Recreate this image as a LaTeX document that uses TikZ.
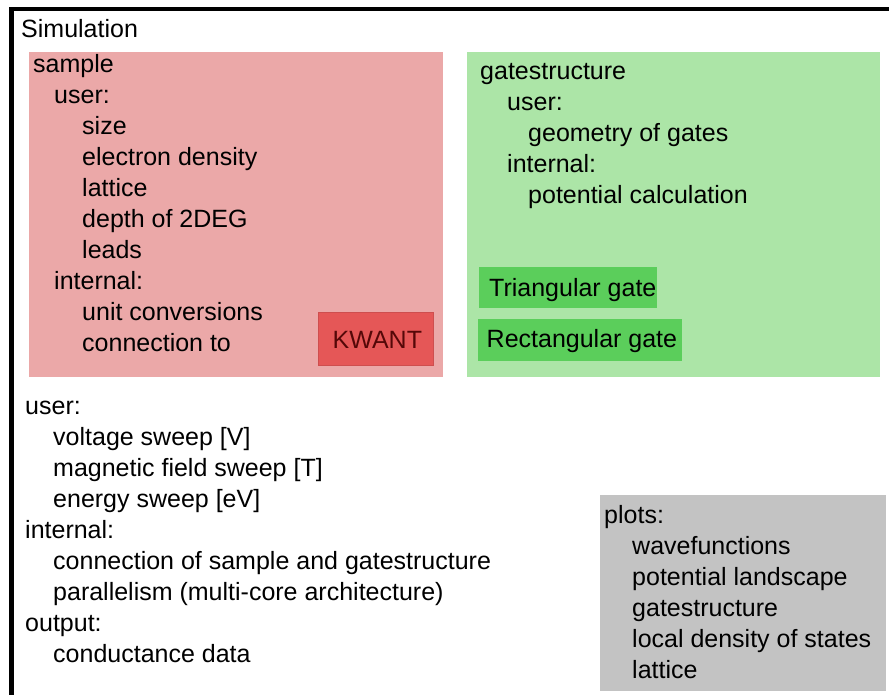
\documentclass[tikz,border=0pt]{standalone}
\usepackage{fontspec}
\setmainfont{Liberation Sans}
\definecolor{samplered}{RGB}{235,168,168}
\definecolor{kwantred}{RGB}{229,87,87}
\definecolor{kwanttext}{RGB}{85,8,8}
\definecolor{gatelight}{RGB}{172,229,167}
\definecolor{gatedark}{RGB}{91,206,91}
\definecolor{plotgray}{RGB}{195,195,195}
\tikzset{
  txt/.style={anchor=base west, inner sep=0pt, font=\fontsize{25}{31}\selectfont},
}
\begin{document}
\begin{tikzpicture}[x=1pt, y=-1pt]
  \useasboundingbox (0,0) rectangle (889,695);

  % frame (left and top edge only)
  \draw[line width=4.5pt] (11.5,695) coordinate (frame-bl) -- (11.5,9) coordinate (frame-tl) -- (889,9) coordinate (frame-tr);
  \node[txt] (simulation) at (21,38) {Simulation};

  % boxes
  \fill[samplered] (29,52) rectangle (443,377);
  \fill[kwantred!90!black] (318,312) rectangle (434,366);
  \fill[kwantred] (319,313) rectangle (433,365);
  \fill[gatelight] (467,52) rectangle (880,377);
  \fill[gatedark] (479,267) rectangle (657,308);
  \fill[gatedark] (478,319) rectangle (682,361);
  \fill[plotgray] (600,495) rectangle (886,691);

  % sample
  \foreach \x/\y/\t [count=\i] in {
      34/70/sample, 55/101/user:, 83/132/size, 83/163/electron density,
      83/194/lattice, 83/225/depth of 2DEG, 83/256/leads, 55/287/internal:,
      83/318/unit conversions, 83/349/connection to}
    \node[txt] (sample-\i) at (\x-1,\y+2.5) {\t};
  \node[txt, text=kwanttext] (kwant) at (332.5,348.5) {KWANT};

  % gatestructure
  \foreach \x/\y/\t [count=\i] in {
      481/77.5/gatestructure, 508/108.5/user:, 529/139.5/geometry of gates,
      508/170.5/internal:, 529/201.5/potential calculation}
    \node[txt] (gate-\i) at (\x-1,\y+2.5) {\t};
  \node[txt] (triangular) at (489,296) {Triangular gate};
  \node[txt] (rectangular) at (486.5,347.5) {Rectangular gate};

  % simulation settings
  \foreach \x/\y/\t [count=\i] in {
      26/411.5/user:, 54/442.5/voltage sweep [V], 54/473.5/magnetic field sweep [T],
      54/504.5/energy sweep [eV], 26/535.5/internal:,
      54/566.5/connection of sample and gatestructure,
      54/597.5/parallelism (multi-core architecture), 26/628.5/output:,
      54/659.5/conductance data}
    \node[txt] (sim-\i) at (\x-1,\y+2.5) {\t};

  % plots
  \foreach \x/\y/\t [count=\i] in {
      605/520.5/plots:, 633/551.5/wavefunctions, 633/582.5/potential landscape,
      633/613.5/gatestructure, 633/644.5/local density of states, 633/675.5/lattice}
    \node[txt] (plot-\i) at (\x-1,\y+2.5) {\t};
\end{tikzpicture}
\end{document}
